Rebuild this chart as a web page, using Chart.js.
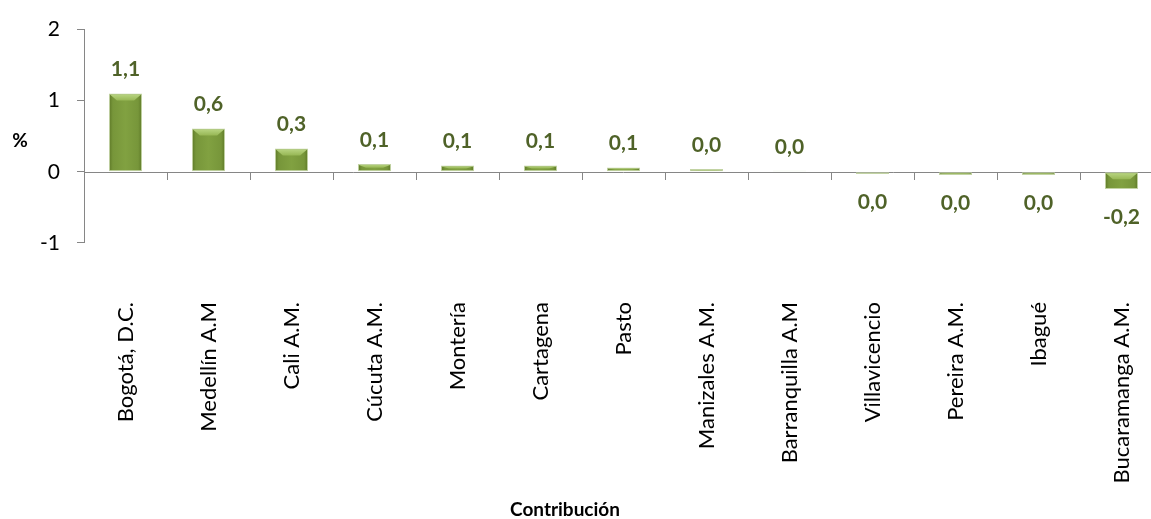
<!DOCTYPE html>
<html>
<head>
<meta charset="utf-8">
<script src="https://cdn.jsdelivr.net/npm/chart.js@4/dist/chart.umd.min.js"></script>
<style>
  html, body { margin: 0; padding: 0; background: #fff; overflow: hidden; }
  #wrap { width: 1165px; height: 519px; }
</style>
</head>
<body>
<div id="wrap"><canvas id="contribChart"></canvas></div>
<script>
// datos
const ciudades = ['Bogotá, D.C.', 'Medellín A.M', 'Cali A.M.', 'Cúcuta A.M.', 'Montería', 'Cartagena',
    'Pasto', 'Manizales A.M.', 'Barranquilla A.M', 'Villavicencio', 'Pereira A.M.', 'Ibagué', 'Bucaramanga A.M.'];
const contribucion = [1.10, 0.61, 0.33, 0.11, 0.09, 0.09, 0.06, 0.04, 0.015, -0.03, -0.045, -0.045, -0.24];
const yTicks = [-1, 0, 1, 2];

const FONT = 'Lato, "Open Sans", sans-serif';
const AXIS_GRAY = '#868686';
const LABEL_GREEN = '#4f6228';

function fmt(v) {
    let s = v.toFixed(1);
    if (s === '-0.0') s = '0.0';
    return s.replace('.', ',');
}

// degradado horizontal por barra
function barFill(context) {
    const chart = context.chart;
    const xs = chart.scales.x;
    if (!xs || !chart.chartArea) return '#77933c';
    const cx = xs.getPixelForValue(context.dataIndex);
    const half = (xs.width / ciudades.length) * 0.4 / 2;
    const g = chart.ctx.createLinearGradient(cx - half, 0, cx + half, 0);
    g.addColorStop(0, '#5d7827');
    g.addColorStop(0.12, '#77963a');
    g.addColorStop(0.5, '#81a141');
    g.addColorStop(0.88, '#77963a');
    g.addColorStop(1, '#5d7827');
    return g;
}

const decoPlugin = {
    id: 'deco',
    beforeDatasetsDraw(chart) {
        const { ctx, chartArea } = chart;
        const y = chart.scales.y;
        const y0 = Math.round(y.getPixelForValue(0));
        const w = (chartArea.right - chartArea.left) / ciudades.length;
        ctx.save();
        ctx.strokeStyle = AXIS_GRAY;
        ctx.lineWidth = 1;
        ctx.beginPath();
        ctx.moveTo(chartArea.left, y0 + 0.5);
        ctx.lineTo(chartArea.right, y0 + 0.5);
        for (let i = 1; i <= ciudades.length; i++) {
            const px = Math.round(chartArea.left + i * w) + 0.5;
            ctx.moveTo(px, y0);
            ctx.lineTo(px, y0 + 8);
        }
        ctx.stroke();
        ctx.restore();
    },
    afterDatasetsDraw(chart) {
        const { ctx } = chart;
        const meta = chart.getDatasetMeta(0);
        ctx.save();
        meta.data.forEach((bar, i) => {
            const top = Math.min(bar.y, bar.base);
            const hgt = Math.abs(bar.base - bar.y);
            const left = bar.x - bar.width / 2 + 1, right = bar.x + bar.width / 2 - 1;
            const h = Math.min(7, hgt / 2);
            if (h > 0.5) {
                const g = ctx.createLinearGradient(0, top, 0, top + h);
                g.addColorStop(0, '#bcd886');
                g.addColorStop(1, '#97b755');
                ctx.fillStyle = g;
                ctx.beginPath();
                ctx.moveTo(left, top + 1);
                ctx.lineTo(right, top + 1);
                ctx.lineTo(right - 7, top + h);
                ctx.lineTo(left + 7, top + h);
                ctx.closePath();
                ctx.fill();
            }
            // etiqueta del valor
            const v = contribucion[i];
            ctx.fillStyle = LABEL_GREEN;
            ctx.font = 'bold 21px ' + FONT;
            ctx.textAlign = 'center';
            ctx.textBaseline = 'middle';
            const ly = v >= 0 ? bar.y - 24 : bar.y + 28;
            ctx.fillText(fmt(v), bar.x, ly);
        });
        ctx.restore();
    },
    afterDraw(chart) {
        const { ctx, chartArea } = chart;
        ctx.save();
        ctx.fillStyle = '#000';
        ctx.textAlign = 'center';
        ctx.textBaseline = 'middle';
        ctx.font = 'bold 19px ' + FONT;
        ctx.fillText('%', 20, (chartArea.top + chartArea.bottom) / 2 + 5);
        ctx.font = 'bold 19px ' + FONT;
        ctx.fillText('Contribución', 565, 510);
        ctx.restore();
    }
};

new Chart(document.getElementById('contribChart'), {
    type: 'bar',
    data: {
        labels: ciudades,
        datasets: [{
            data: contribucion,
            backgroundColor: barFill,
            borderColor: '#c2d3a3',
            borderWidth: 1,
            borderSkipped: false,
            barPercentage: 0.4,
            categoryPercentage: 1.0
        }]
    },
    options: {
        responsive: true,
        maintainAspectRatio: false,
        animation: false,
        layout: { padding: { top: 23, right: 2, left: 0, bottom: 0 } },
        plugins: {
            legend: { display: false },
            tooltip: { enabled: false }
        },
        scales: {
            x: {
                grid: { display: false, drawTicks: false },
                border: { display: false },
                ticks: {
                    autoSkip: false,
                    minRotation: 90,
                    maxRotation: 90,
                    padding: 59,
                    color: '#000',
                    font: { family: FONT, size: 22 }
                },
                afterFit(scale) {
                    scale.height = 276;
                    scale.paddingLeft = 0;
                    scale.paddingRight = 0;
                }
            },
            y: {
                min: -1,
                max: 2,
                afterBuildTicks(scale) {
                    scale.ticks = yTicks.map(v => ({ value: v }));
                },
                grid: { drawOnChartArea: false, drawTicks: true, tickLength: 7, color: AXIS_GRAY },
                border: { display: true, color: AXIS_GRAY, width: 1 },
                ticks: {
                    padding: 17,
                    color: '#000',
                    font: { family: FONT, size: 21 },
                    callback: v => String(v)
                },
                afterFit(scale) {
                    scale.width = 84;
                }
            }
        }
    },
    plugins: [decoPlugin]
});
</script>
</body>
</html>
